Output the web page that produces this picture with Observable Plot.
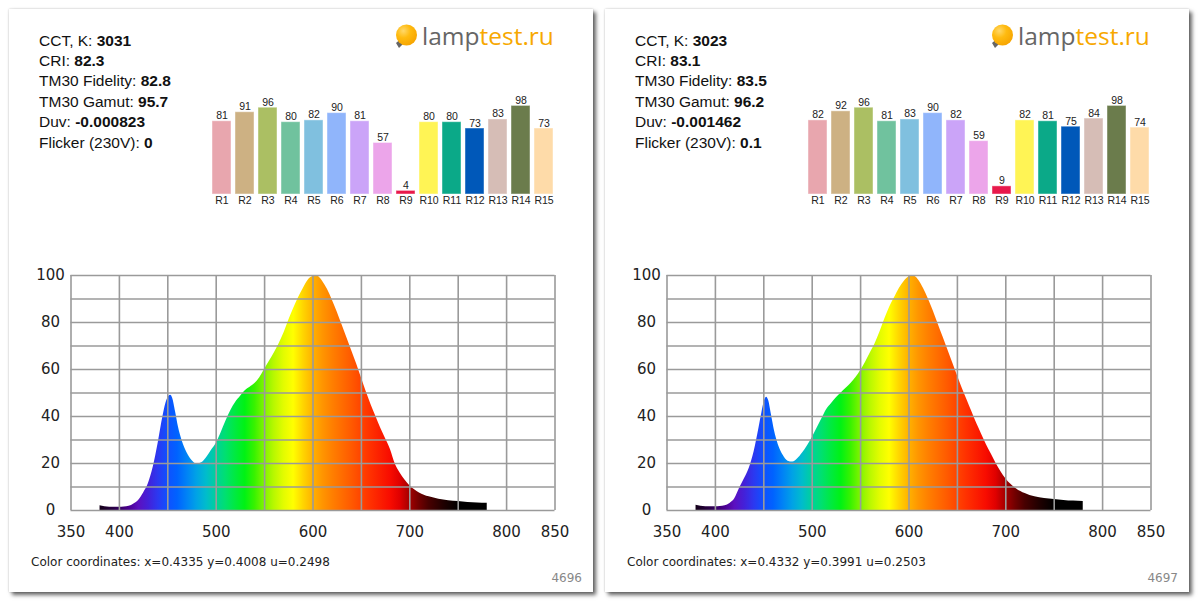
<!DOCTYPE html>
<html><head><meta charset="utf-8">
<script src="https://cdn.jsdelivr.net/npm/d3@7"></script>
<script src="https://cdn.jsdelivr.net/npm/@observablehq/plot@0.6"></script>
<style>
html,body{margin:0;padding:0;background:#fff;}
body{width:1200px;height:603px;overflow:hidden;position:relative;font-family:Arial,"Liberation Sans",sans-serif;}
.card{position:absolute;top:9px;width:584px;height:583px;background:#fff;
  box-shadow:3px 3px 4px rgba(0,0,0,0.6),0 0 2px rgba(0,0,0,0.22);}
.stats{position:absolute;left:30px;top:21.5px;font-size:15.5px;line-height:20.4px;color:#111;white-space:nowrap;}
.stats b{font-weight:bold;}
.logo{position:absolute;left:384px;top:12px;height:30px;white-space:nowrap;}
.logo svg{position:absolute;left:0;top:0;}
.logo .t{position:absolute;left:29px;top:0px;font-family:"Open Sans",sans-serif;font-size:24.5px;line-height:30px;}
.logo .g{color:#666;} .logo .o{color:#f7a800;}
.bars{position:absolute;left:180px;top:80px;}
.spec{position:absolute;left:0;top:240px;}
.coords{position:absolute;left:22px;top:546px;font-family:"DejaVu Sans",Verdana,sans-serif;font-size:12px;color:#222;white-space:nowrap;}
.num{position:absolute;right:11px;top:562px;font-family:"DejaVu Sans",Verdana,sans-serif;font-size:12px;color:#888;}
</style>
</head><body>
<script>
// ---- data ----
const rLabels = ["R1","R2","R3","R4","R5","R6","R7","R8","R9","R10","R11","R12","R13","R14","R15"];
const rColors = ["#e8a6ae","#cdb183","#abbf63","#70c29e","#80c0df","#90b5fb","#cba4f8","#eca5ea","#e8194b","#fff455","#0ba988","#0058b9","#d6bdb6","#6b7c4c","#fedba9"];
const crisLeft  = [81,91,96,80,82,90,81,57,4,80,80,73,83,98,73];
const crisRight = [82,92,96,81,83,90,82,59,9,82,81,75,84,98,74];

const statLabels = ["CCT, K:","CRI:","TM30 Fidelity:","TM30 Gamut:","Duv:","Flicker (230V):"];
const statsLeft  = ["3031","82.3","82.8","95.7","-0.000823","0"];
const statsRight = ["3023","83.1","83.5","96.2","-0.001462","0.1"];

const coordsLeft  = "Color coordinates: x=0.4335 y=0.4008 u=0.2498";
const coordsRight = "Color coordinates: x=0.4332 y=0.3991 u=0.2503";
const idLeft = "4696", idRight = "4697";

const xTicks = [350,400,500,600,700,800,850];
const yTicks = [0,20,40,60,80,100];
const xGrid = [350,400,450,500,550,600,650,700,750,800,850];
const yGrid = [0,10,20,30,40,50,60,70,80,90,100];

const wavelengths = [380,385,390,395,400,405,410,415,420,425,430,435,440,445,448,451,453,455,458,461,465,470,475,480,485,490,495,500,505,510,515,520,525,530,535,540,545,550,555,560,565,570,575,580,585,590,595,600,603,606,610,615,620,625,630,635,640,645,650,655,660,665,670,675,680,685,690,695,700,710,720,730,740,750,760,770,780];
const specLeft  = [2.0,1.6,1.4,1.4,1.4,1.5,1.8,2.8,4.4,7.5,11.5,18.5,28.5,40,45.5,48.5,49,47.8,42,35.5,29.5,24.5,21.3,19.8,20.3,22.5,25.5,28.5,33,38,42.5,46,48.5,51,52.5,54,56.5,60,63.5,67,71,75.5,81,86,90.5,94.5,98,99.7,100,99.5,97.5,94,89.5,84.5,79,73.5,68,62.5,56.5,50.5,45,40,35,30.5,26,19.8,16,13,10.5,7.5,5.8,4.8,4.2,3.8,3.4,3.2,3.1];
const specRight = [2.2,1.8,1.6,1.6,1.6,1.7,2.0,3.0,5.0,9.5,13.5,18,25,35,41.5,47,48.2,46.8,40.5,34,28,23.5,21,20.6,22,24.5,27.5,31,35,39,43,45.5,48,50,52,54,56.5,59.5,63,67,71,76,81.5,86.5,90.5,94.5,97.5,99.5,100,99.7,98,94.5,90,85,79.5,74,68.5,63,57.5,52,47,42,37,32.5,28,24,20,16.5,13.5,9.5,7.2,5.8,5.1,4.7,4.3,4.0,3.8];

// wavelength -> colour stops for the spectrum fill
const stopWl  = [380,395,410,420,430,440,450,460,470,480,490,500,510,520,530,540,550,560,570,580,590,600,610,620,640,660,680,690,700,710,720,735,750,780];
const stopCol = ["#140018","#2a0048","#4a0090","#5c10c0","#4420d8","#2c38f0","#1050ff","#0062ff","#0082f6","#00a2e6","#00bccc","#00d09c","#00e070","#00ea40","#00f214","#38f200","#80f400","#b8f800","#e2fc00","#ffff00","#ffd600","#ffb200","#ff9600","#ff8000","#ff5a00","#ff3000","#f80c00","#e00000","#a40000","#720000","#480000","#200000","#000000","#000000"];

// ---- build ----
function panel(left, stats, cris, spec, coords, id, gid){
  const card = document.createElement("div");
  card.className = "card"; card.style.left = left + "px";
  document.body.appendChild(card);

  const st = document.createElement("div"); st.className = "stats";
  st.innerHTML = statLabels.map((l,i)=>`${l} <b>${stats[i]}</b>`).join("<br>");
  card.appendChild(st);

  const logo = document.createElement("div"); logo.className = "logo";
  logo.innerHTML = `<svg width="28" height="30" viewBox="0 0 28 30">
    <defs><radialGradient id="ball${gid}" cx="0.35" cy="0.3" r="0.75">
      <stop offset="0" stop-color="#ffd86a"/><stop offset="0.45" stop-color="#ffbb10"/><stop offset="1" stop-color="#f6a400"/></radialGradient></defs>
    <path d="M3 22 L6.5 19 L10 23 L6 27 Z" fill="#666"/>
    <circle cx="13.5" cy="14" r="10.5" fill="url(#ball${gid})"/>
    </svg><span class="t"><span class="g">lamp</span><span class="o">test.ru</span></span>`;
  card.appendChild(logo);

  const data = rLabels.map((r,i)=>({r, v: cris[i]}));
  const bars = Plot.plot({
    width: 385, height: 125,
    marginLeft: 23.3, marginRight: 20.7, marginTop: 14.6, marginBottom: 20,
    style: {fontFamily: "Arial, 'Liberation Sans', sans-serif", background: "transparent", color: "#222", overflow: "visible"},
    x: {domain: rLabels, paddingInner: 0.174, paddingOuter: 0},
    y: {domain: [0,100], axis: null},
    color: {domain: rLabels, range: rColors},
    marks: [
      Plot.barY(data, {x: "r", y: "v", fill: "r", stroke: "#ffffff", strokeOpacity: 0.45, strokeWidth: 1}),
      Plot.text(data, {x: "r", y: "v", text: d => String(d.v), lineAnchor: "bottom", dy: -2, fontSize: 10.5}),
      Plot.axisX({tickSize: 0, tickPadding: 2, fontSize: 10.5, label: null})
    ]
  });
  bars.classList.add("bars");
  card.appendChild(bars);

  const sdata = wavelengths.map((w,i)=>({w, v: spec[i]}));
  const sp = Plot.plot({
    width: 584, height: 306,
    marginLeft: 61.5, marginRight: 38.5, marginTop: 26, marginBottom: 45,
    style: {fontFamily: "'DejaVu Sans', Verdana, sans-serif", background: "transparent", color: "#222", overflow: "visible"},
    x: {domain: [350,850]},
    y: {domain: [0,100]},
    marks: [
      Plot.areaY(sdata, {x: "w", y: "v", fill: `url(#spec${gid})`, curve: "monotone-x"}),
      Plot.ruleX(xGrid, {stroke: "#9a9a9a", strokeWidth: 1.6}),
      Plot.ruleY(yGrid, {stroke: "#9a9a9a", strokeWidth: 1.6}),
      Plot.axisX({ticks: xTicks, tickSize: 0, tickPadding: 16, fontSize: 15, label: null, tickFormat: d => String(d)}),
      Plot.axisY({ticks: yTicks, tickSize: 0, tickPadding: 20.5, textAnchor: "middle", fontSize: 15, label: null, tickFormat: d => String(d)})
    ]
  });
  const defs = d3.select(sp).insert("defs", ":first-child");
  const lg = defs.append("linearGradient").attr("id", `spec${gid}`)
    .attr("x1", 0).attr("x2", 1).attr("y1", 0).attr("y2", 0);
  const w0 = wavelengths[0], w1 = wavelengths[wavelengths.length-1];
  stopWl.forEach((w,i)=> lg.append("stop").attr("offset", (w - w0)/(w1 - w0)).attr("stop-color", stopCol[i]));
  sp.classList.add("spec");
  card.appendChild(sp);

  const c = document.createElement("div"); c.className = "coords"; c.textContent = coords; card.appendChild(c);
  const n = document.createElement("div"); n.className = "num"; n.textContent = id; card.appendChild(n);
}

panel(9, statsLeft, crisLeft, specLeft, coordsLeft, idLeft, "L");
panel(605, statsRight, crisRight, specRight, coordsRight, idRight, "R");
</script>
</body></html>
